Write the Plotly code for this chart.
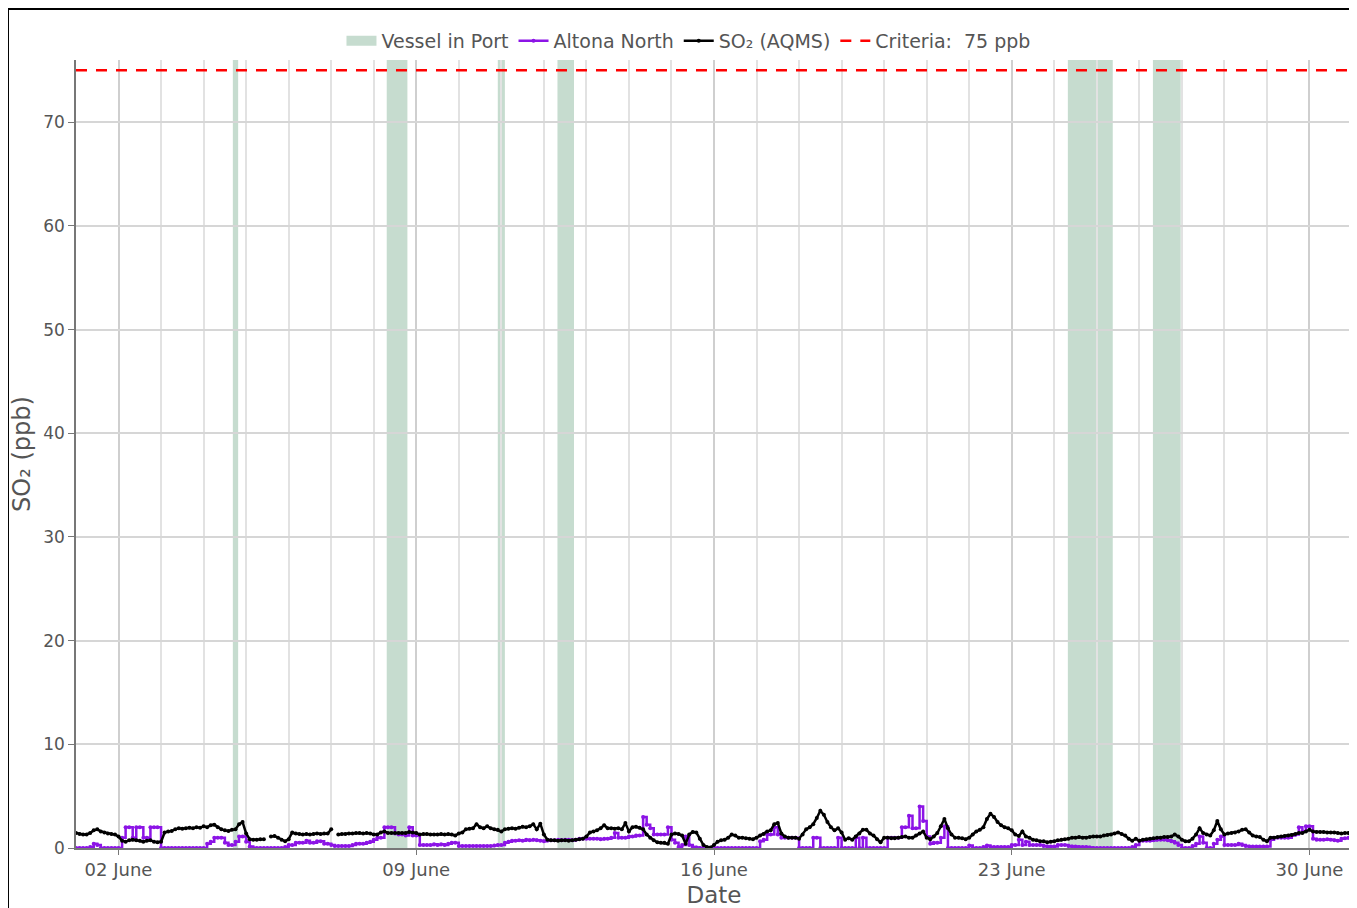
import pandas as pd
import plotly.graph_objects as go

# 2-hourly readings, 1 June 00:00 to 30 June 22:00 (12 values per day)
START = "2023-06-01"
END = "2023-07-01"
STEP = "2h"

altona_north = [
    0, 0, 0, 0, 0.1, 0.4, 0.3, 0, 0, 0, 0, 0,                       # 01
    0, 1.0, 2.0, 2.0, 1.0, 2.0, 2.0, 1.0, 1.0, 2.0, 2.0, 2.0,       # 02
    0, 0, 0, 0, 0, 0, 0, 0, 0, 0, 0, 0,                             # 03
    0, 0.4, 0.6, 1.0, 1.0, 1.0, 0.5, 0.3, 0.3, 0.6, 1.1, 1.1,       # 04
    0.6, 0.15, 0, 0, 0, 0, 0, 0, 0, 0, 0, 0.1,                      # 05
    0.3, 0.3, 0.5, 0.5, 0.5, 0.7, 0.5, 0.5, 0.65, 0.65, 0.4, 0.4,   # 06
    0.3, 0.2, 0.2, 0.2, 0.2, 0.2, 0.3, 0.4, 0.4, 0.4, 0.5, 0.6,     # 07
    0.8, 1.0, 1.0, 2.0, 2.0, 2.0, 1.4, 1.3, 1.3, 1.2, 2.0, 1.2,     # 08
    1.2, 0.3, 0.3, 0.3, 0.3, 0.35, 0.3, 0.35, 0.3, 0.4, 0.5, 0.5,   # 09
    0.2, 0.2, 0.2, 0.2, 0.2, 0.2, 0.2, 0.2, 0.2, 0.2, 0.25, 0.3,    # 10
    0.3, 0.5, 0.6, 0.7, 0.7, 0.75, 0.7, 0.8, 0.75, 0.8, 0.75, 0.7,  # 11
    0.65, 0.75, 0.75, 0.75, 0.8, 0.75, 0.8, 0.8, 0.75, 0.8, 0.9, 0.9,  # 12
    0.9, 0.9, 0.9, 0.9, 0.85, 0.9, 0.9, 1.0, 1.45, 1.0, 1.0, 1.0,   # 13
    1.1, 1.1, 1.2, 1.2, 3.0, 2.25, 1.9, 1.3, 1.3, 1.3, 1.3, 2.0,    # 14
    0.8, 0.5, 0.1, 0.3, 1.1, 0.3, 0.1, 0.05, 0, 0, 0, 0,            # 15
    0, 0, 0, 0, 0, 0, 0, 0, 0, 0, 0, 0,                             # 16
    0, 0.65, 0.8, 1.3, 1.3, 2.0, 1.3, 1.0, 1.0, 1.0, 1.0, 1.0,      # 17
    0, 0, 0, 0, 1.0, 1.0, 0, 0, 0, 0, 0, 1.0,                       # 18
    0, 0, 0, 0, 1.0, 0, 1.0, 0, 0, 0, 0, 0,                         # 19
    0, 1.0, 1.0, 1.0, 1.0, 2.0, 2.0, 3.1, 1.9, 1.9, 4.0, 2.6,       # 20
    1.1, 0.4, 0.5, 0.5, 1.0, 2.1, 0, 0, 0, 0, 0, 0,                 # 21
    0.25, 0, 0, 0, 0.1, 0.25, 0.1, 0.1, 0.1, 0.1, 0.1, 0.1,         # 22
    0.3, 0.3, 0.8, 0.3, 0.6, 0.3, 0.3, 0.3, 0.3, 0.2, 0.15, 0.15,   # 23
    0.15, 0.3, 0.3, 0.3, 0.2, 0.15, 0.15, 0.1, 0.1, 0.1, 0.05, 0,   # 24
    0, 0, 0, 0, 0, 0, 0, 0, 0, 0, 0.1, 0.3,                         # 25
    0.7, 0.7, 0.7, 0.7, 0.75, 0.8, 0.8, 0.8, 0.75, 0.65, 0.5, 0.3,  # 26
    0, 0, 0, 0.2, 0.4, 1.1, 0.5, 0, 0, 0.4, 0.8, 1.1,               # 27
    0.3, 0.3, 0.3, 0.3, 0.4, 0.3, 0.2, 0.15, 0.15, 0.15, 0.15, 0.15,  # 28
    0.15, 0.8, 1.0, 1.0, 1.0, 1.0, 1.0, 1.2, 1.3, 2.0, 1.6, 2.1,    # 29
    2.1, 0.9, 0.8, 0.8, 0.8, 0.85, 0.8, 0.75, 0.7, 0.9, 0.95, 1.0,  # 30
]

so2_aqms = [
    1.45, 1.35, 1.3, 1.3, 1.45, 1.7, 1.8, 1.6, 1.5, 1.4, 1.35, 1.3,     # 01
    1.1, 0.7, 0.6, 0.75, 0.8, 0.75, 0.7, 0.6, 0.7, 0.75, 0.6, 0.55,     # 02
    0.6, 1.5, 1.6, 1.65, 1.8, 1.9, 1.85, 1.9, 1.95, 1.9, 2.0, 1.95,     # 03
    2.1, 2.0, 2.2, 2.25, 2.0, 1.8, 1.7, 1.65, 1.75, 1.8, 2.3, 2.5,      # 04
    1.4, 0.85, 0.8, 0.8, 0.85, 0.85, None, 1.1, 1.15, 1.0, 0.8, 0.65,   # 05
    0.85, 1.5, 1.4, 1.35, 1.3, 1.35, 1.3, 1.35, 1.4, 1.35, 1.4, 1.4,    # 06
    1.8, None, 1.3, 1.35, 1.35, 1.4, 1.4, 1.45, 1.45, 1.4, 1.45, 1.4,   # 07
    1.3, 1.3, 1.5, 1.6, 1.45, 1.45, 1.45, 1.45, 1.45, 1.45, 1.55, 1.5,  # 08
    1.45, 1.3, 1.35, 1.35, 1.3, 1.3, 1.3, 1.35, 1.3, 1.35, 1.3, 1.2,    # 09
    1.4, 1.5, 1.8, 1.85, 1.9, 2.3, 2.0, 1.9, 2.1, 1.9, 1.8, 1.75,       # 10
    1.6, 1.8, 1.85, 1.9, 1.85, 1.95, 2.05, 2.0, 2.1, 2.3, 1.8, 2.35,    # 11
    1.3, 0.8, 0.75, 0.75, 0.7, 0.75, 0.75, 0.7, 0.75, 0.8, 0.85, 0.9,   # 12
    1.1, 1.5, 1.6, 1.7, 1.9, 2.2, 1.9, 1.9, 1.85, 1.9, 1.8, 2.4,        # 13
    1.6, 2.0, 2.05, 1.95, 1.8, 1.3, 1.0, 0.75, 0.55, 0.5, 0.5, 0.4,     # 14
    1.3, 1.4, 1.35, 1.2, 0.4, 1.3, 1.55, 1.5, 0.9, 0.3, 0.1, 0.05,      # 15
    0.3, 0.6, 0.75, 0.8, 1.0, 1.3, 1.2, 1.0, 1.0, 0.95, 0.9, 0.85,      # 16
    1.0, 1.2, 1.35, 1.6, 1.7, 2.3, 2.4, 1.4, 1.1, 1.0, 1.0, 1.0,        # 17
    0.9, 1.3, 1.8, 2.0, 2.3, 2.9, 3.6, 3.2, 2.5, 2.0, 1.7, 1.9,         # 18
    1.5, 0.8, 0.95, 0.8, 1.1, 1.4, 1.75, 1.75, 1.4, 1.2, 0.85, 0.55,    # 19
    1.0, 1.0, 0.95, 0.95, 1.0, 1.05, 1.1, 1.0, 1.0, 1.2, 1.4, 1.6,      # 20
    1.0, 0.85, 1.1, 1.45, 2.1, 2.8, 1.9, 1.3, 1.0, 1.0, 0.95, 0.85,     # 21
    1.0, 1.3, 1.6, 1.75, 2.0, 2.8, 3.3, 3.0, 2.5, 2.2, 2.0, 1.9,        # 22
    1.7, 1.3, 1.15, 1.6, 1.1, 1.0, 0.8, 0.75, 0.65, 0.65, 0.55, 0.6,    # 23
    0.65, 0.75, 0.8, 0.85, 0.9, 1.0, 1.0, 1.05, 1.0, 1.0, 1.05, 1.1,    # 24
    1.1, 1.1, 1.2, 1.25, 1.3, 1.4, 1.5, 1.35, 1.2, 0.9, 0.7, 0.9,       # 25
    0.7, 0.8, 0.85, 0.9, 0.95, 1.0, 1.0, 1.05, 1.05, 1.1, 1.3, 1.1,     # 26
    0.8, 0.65, 0.65, 0.9, 1.3, 1.9, 1.45, 1.3, 1.2, 1.7, 2.6, 1.8,      # 27
    1.3, 1.4, 1.45, 1.5, 1.6, 1.75, 1.8, 1.5, 1.2, 1.1, 1.05, 0.8,      # 28
    0.65, 1.0, 1.0, 1.05, 1.1, 1.15, 1.2, 1.25, 1.35, 1.45, 1.45, 1.6,  # 29
    1.75, 1.6, 1.55, 1.55, 1.55, 1.5, 1.5, 1.5, 1.45, 1.4, 1.45, 1.45,  # 30
]

# vessel in port periods
vessel_start = ["2023-06-04 16:30", "2023-06-08 07:20", "2023-06-10 22:00",
                "2023-06-12 07:40", "2023-06-24 07:40", "2023-06-26 07:40"]
vessel_end = ["2023-06-04 19:30", "2023-06-08 19:00", "2023-06-11 02:00",
              "2023-06-12 17:00", "2023-06-25 09:00", "2023-06-26 23:20"]

CRITERIA = 75

times = pd.date_range(START, periods=len(so2_aqms), freq=STEP)

VESSEL_COLOR = "#c6dccf"
PURPLE = "#8c14e6"

fig = go.Figure()

# legend entry for the shaded periods
fig.add_trace(go.Scatter(
    x=[None], y=[None], mode="lines", name="Vessel in Port",
    line=dict(color=VESSEL_COLOR, width=10),
))

fig.add_trace(go.Scatter(
    x=times, y=altona_north, mode="lines+markers", name="Altona North",
    line=dict(color=PURPLE, width=2.5, shape="hv"),
    marker=dict(size=4, color=PURPLE),
))

fig.add_trace(go.Scatter(
    x=times, y=so2_aqms, mode="lines+markers", name="SO₂ (AQMS)",
    line=dict(color="black", width=2.5),
    marker=dict(size=4, color="black"),
))

fig.add_trace(go.Scatter(
    x=[START, END], y=[CRITERIA, CRITERIA], mode="lines",
    name=f"Criteria:  {CRITERIA} ppb",
    line=dict(color="red", width=2.5, dash="11px,9px"),
))

for s, e in zip(vessel_start, vessel_end):
    fig.add_vrect(x0=s, x1=e, fillcolor=VESSEL_COLOR, opacity=1,
                  line_width=0, layer="below")

# frame around the figure
fig.add_shape(type="rect", xref="paper", yref="paper",
              x0=-0.0533, x1=1.2, y0=-0.2, y1=1.0647,
              line=dict(color="black", width=2))

fig.update_layout(
    width=1349,
    height=900,
    margin=dict(l=68, r=5, t=52, b=60, autoexpand=False),
    plot_bgcolor="white",
    paper_bgcolor="white",
    font=dict(family="DejaVu Sans", size=16, color="#555"),
    showlegend=True,
    legend=dict(orientation="h", x=0.48, xanchor="center", y=1.0,
                yanchor="bottom", font=dict(size=19)),
)

fig.update_xaxes(
    type="date", automargin=False,
    title=dict(text="Date", font=dict(size=23), standoff=12),
    range=[START, END],
    tick0="2023-06-02", dtick=7 * 86400000, tickformat="%d %B",
    tickfont=dict(size=18),
    ticks="outside", ticklen=5, tickcolor="#777",
    showgrid=True, gridcolor="#cfcfcf", gridwidth=2,
    minor=dict(dtick=86400000, showgrid=True, gridcolor="#e2e2e2", gridwidth=1.5),
    showline=True, linecolor="#777", linewidth=1.5,
)

fig.update_yaxes(
    automargin=False,
    title=dict(text="SO₂ (ppb)", font=dict(size=24)),
    range=[0, 76], dtick=10,
    tickfont=dict(size=17),
    ticks="outside", ticklen=6, tickcolor="#777",
    showgrid=True, gridcolor="#d6d6d6", gridwidth=2,
    zeroline=False,
    showline=True, linecolor="#777", linewidth=1.5,
)

fig.write_html("out.html")
